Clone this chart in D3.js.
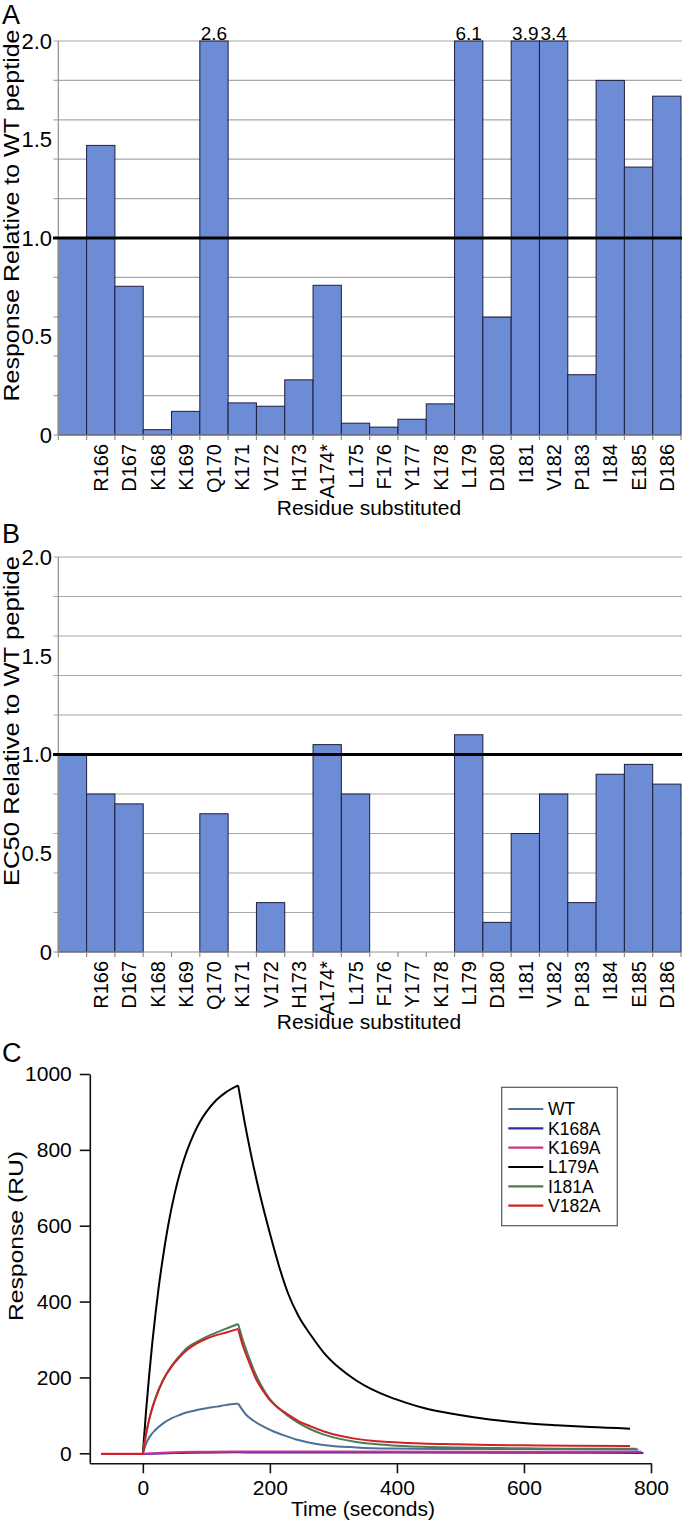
<!DOCTYPE html>
<html><head><meta charset="utf-8">
<script src="https://cdn.jsdelivr.net/npm/d3@7"></script>
<style>
body{margin:0;background:#fff}
svg{display:block}
text{font-family:"Liberation Sans",Arial,Helvetica,sans-serif;fill:#000}
</style>
</head><body>
<svg id="chart" width="682" height="1524"></svg>
<script>
// ---------- DATA ----------
const residues = ["WT","R166","D167","K168","K169","Q170","K171","V172","H173","A174*","L175","F176","Y177","K178","L179","D180","I181","V182","P183","I184","E185","D186"];
const residueTickLabels = ["","R166","D167","K168","K169","Q170","K171","V172","H173","A174*","L175","F176","Y177","K178","L179","D180","I181","V182","P183","I184","E185","D186"];
const responseValues = [1.0,1.47,0.755,0.027,0.12,2.6,0.163,0.146,0.28,0.76,0.06,0.04,0.08,0.158,6.1,0.598,3.9,3.4,0.306,1.8,1.36,1.72];
const ec50Values = [1.0,0.8,0.75,null,null,0.7,null,0.25,null,1.05,0.8,null,null,null,1.1,0.15,0.6,0.8,0.25,0.9,0.95,0.85];
const barYTickValues = [0,0.5,1,1.5,2];
const barYTickLabels = ["0","0.5","1.0","1.5","2.0"];
const barGridValues = [0.2,0.4,0.6,0.8,1.2,1.4,1.6,1.8,2.0];

const sprNames = ["WT","K168A","K169A","L179A","I181A","V182A"];
const sprColors = ["#4b7296","#2e2ea0","#d0308e","#000000","#4e7a58","#d02222"];
const wtTime   = [-65,0,5,11,20,32,45,58,70,85,100,116,130,150,163,175,190,205,221,240,263,284,336,389,494,600,780];
const wtResp   = [-2,-2,25,44,62,79,92,101,108,114,119,123,127,131,101,85,70,58,48,37,28,22,15.5,12.5,11,11,10];
const k168Time = [-65,0,50,150,200,400,600,788];
const k168Resp = [-2,-2,1,3,2,2,1.5,1];
const k169Time = [-65,0,50,100,150,200,300,500,785];
const k169Resp = [-1,-1,3,4,5,5,4.5,4,4];
const l179Time = [-65,0,5,10,15,20,25,30,40,50,60,70,80,90,100,115,130,150,160,170,184,200,215,229,245,263,285,310,336,360,389,415,441,494,546,599,651,704,767];
const l179Resp = [-2,-2,110,206,293,369,438,498,602,684,749,800,841,874,900,930,951,970,875,790,685,580,490,420,362,315,265,224,192,169,148,133,120,102,89,80,74,69,65];
const i181Time = [-65,0,5,11,20,32,45,58,70,85,100,111,130,150,158,165,179,190,200,213,226,245,263,284,310,336,360,389,440,494,546,599,680,777];
const i181Resp = [-2,-2,50,96,146,194,230,257,278,294,307,315,328,341,296,262,203,168,143,120,102,80,64,50,38,30,25,21,17,15,14,13,12,12];
const v182Time = [-65,0,5,11,20,32,45,58,70,85,100,111,130,150,158,165,179,190,200,213,226,245,263,284,310,336,360,389,440,494,546,599,680,767];
const v182Resp = [-2,-2,50,96,145,193,228,254,273,290,302,309,318,328,281,250,193,163,140,120,105,85,72,58,46,38,33,30,26,24,22,21,20,19];
const sprXTicks = [0,200,400,600,800];
const sprYTicks = [0,200,400,600,800,1000];

const sprSeries = [
  {t: wtTime, v: wtResp}, {t: k168Time, v: k168Resp}, {t: k169Time, v: k169Resp},
  {t: l179Time, v: l179Resp}, {t: i181Time, v: i181Resp}, {t: v182Time, v: v182Resp}
].map((s,i)=>({name: sprNames[i], color: sprColors[i], pts: s.t.map((t,j)=>({t, v: s.v[j]}))}));

// ---------- DRAW ----------
const svg = d3.select("#chart");
const font = "'Liberation Sans',Arial,Helvetica,sans-serif";

function barPanel(cfg){
  const g = svg.append("g");
  const x = d3.scaleBand().domain(residues).range([58.3, 681]).paddingInner(0).paddingOuter(0);
  const y = d3.scaleLinear().domain([0,2]).range([cfg.y0, cfg.yTop]).clamp(true);
  const bw = x.bandwidth();
  g.selectAll("line.grid").data(barGridValues).join("line")
    .attr("x1", 53.5).attr("x2", 682).attr("y1", d=>y(d)).attr("y2", d=>y(d))
    .attr("stroke", "#a8a8a8").attr("stroke-width", 1.2);
  const data = residues.map((r,i)=>({r, v: cfg.values[i]})).filter(d=>d.v!==null);
  g.selectAll("rect.bar").data(data).join("rect")
    .attr("x", d=>x(d.r)).attr("width", bw)
    .attr("y", d=>y(d.v)).attr("height", d=>cfg.y0 - y(d.v))
    .attr("fill", "#6c8dd5").attr("stroke", "#1d1d3e").attr("stroke-width", 1);
  g.append("line").attr("x1",58.3).attr("x2",58.3).attr("y1",cfg.yTop).attr("y2",cfg.y0)
    .attr("stroke","#909090").attr("stroke-width",1.2);
  g.append("line").attr("x1",53.5).attr("x2",682).attr("y1",cfg.y0).attr("y2",cfg.y0)
    .attr("stroke","#909090").attr("stroke-width",1.2);
  const bounds = residues.map(r=>x(r)).concat([x.range()[1]]);
  g.selectAll("line.xt").data(bounds).join("line")
    .attr("x1",d=>d).attr("x2",d=>d).attr("y1",cfg.y0).attr("y2",cfg.y0+5)
    .attr("stroke","#909090").attr("stroke-width",1.2);
  g.append("line").attr("x1",53).attr("x2",682).attr("y1",y(1)).attr("y2",y(1))
    .attr("stroke","#000").attr("stroke-width",3);
  g.selectAll("text.yt").data(barYTickValues).join("text")
    .attr("x",52).attr("y",d=>y(d)).attr("dy","0.36em").attr("text-anchor","end")
    .style("font-size","22px").text((d,i)=>barYTickLabels[i]);
  g.selectAll("text.xl").data(residues).join("text")
    .attr("transform", d=>`translate(${x(d)+bw/2},${cfg.y0+9}) rotate(-90)`)
    .attr("dy","0.36em").attr("text-anchor","end").style("font-size","20px")
    .text((d,i)=>residueTickLabels[i]);
  g.selectAll("text.vl").data(data.filter(d=>d.v>2)).join("text")
    .attr("x", d=>x(d.r)+bw/2).attr("y", cfg.yTop-1.5).attr("text-anchor","middle")
    .style("font-size","19px").text(d=>d3.format(".1f")(d.v));
  g.append("text").attr("x",369).attr("y",cfg.xTitleY).attr("text-anchor","middle")
    .style("font-size","21px").text("Residue substituted");
  g.append("text").attr("transform",`translate(18.5,${cfg.titleCenter}) rotate(-90)`)
    .attr("text-anchor","middle").style("font-size","22px")
    .attr("textLength",cfg.titleLen).attr("lengthAdjust","spacingAndGlyphs")
    .text(cfg.yTitle);
  g.append("text").attr("x",2).attr("y",cfg.letterY).style("font-size","27px").text(cfg.letter);
}

barPanel({yTop:41, y0:435, values:responseValues, yTitle:"Response Relative to WT peptide",
  titleCenter:215.5, titleLen:372, letter:"A", letterY:24, xTitleY:515});
barPanel({yTop:557, y0:952, values:ec50Values, yTitle:"EC50 Relative to WT peptide",
  titleCenter:721, titleLen:330, letter:"B", letterY:543, xTitleY:1029});

// ---------- Panel C ----------
const gc = svg.append("g");
const xs = d3.scaleLinear().domain([-83.5, 800]).range([89.8, 651]);
const ys = d3.scaleLinear().domain([-26.4, 1000]).range([1463.3, 1074]);

const xAxis = d3.axisBottom(xs).tickValues(sprXTicks).tickSize(10).tickSizeOuter(0).tickPadding(7).tickFormat(d3.format("d"));
const yAxis = d3.axisLeft(ys).tickValues(sprYTicks).tickSize(10).tickSizeOuter(0).tickPadding(8).tickFormat(d3.format("d"));
const gx = gc.append("g").attr("transform","translate(0,1463.3)").call(xAxis);
const gy = gc.append("g").attr("transform","translate(89.8,0)").call(yAxis);
[gx, gy].forEach(a=>{
  a.selectAll("path,line").attr("stroke","#111").attr("stroke-width",1.6);
  a.selectAll("text").style("font-size","21px").style("font-family",font).attr("fill","#000");
});

const line = d3.line().x(d=>xs(d.t)).y(d=>ys(d.v)).curve(d3.curveMonotoneX);
const phaseBreaks = [0, 150];
sprSeries.forEach(s=>{
  const segs = [
    s.pts.filter(p=>p.t<=phaseBreaks[0]),
    s.pts.filter(p=>p.t>=phaseBreaks[0] && p.t<=phaseBreaks[1]),
    s.pts.filter(p=>p.t>=phaseBreaks[1])
  ];
  const gs = gc.append("g");
  segs.forEach(seg=>{
    if(seg.length>1) gs.append("path").attr("d", line(seg)).attr("fill","none")
      .attr("stroke", s.color).attr("stroke-width", 2).attr("stroke-linejoin","round");
  });
});

gc.append("text").attr("x",363).attr("y",1516).attr("text-anchor","middle")
  .style("font-size","21px").text("Time (seconds)");
gc.append("text").attr("transform","translate(23.3,1236) rotate(-90)").attr("text-anchor","middle")
  .style("font-size","21px").attr("textLength",170).attr("lengthAdjust","spacingAndGlyphs")
  .text("Response (RU)");
gc.append("text").attr("x",2).attr("y",1062).style("font-size","27px").text("C");

// legend
const lg = gc.append("g");
lg.append("rect").attr("x",501.7).attr("y",1087.3).attr("width",115.6).attr("height",138.4)
  .attr("fill","#fff").attr("stroke","#555").attr("stroke-width",1.2);
const ly = d3.scalePoint().domain(sprNames).range([1109, 1205.7]);
lg.selectAll("line.lg").data(sprSeries).join("line")
  .attr("x1",508.3).attr("x2",543.3).attr("y1",d=>ly(d.name)).attr("y2",d=>ly(d.name))
  .attr("stroke",d=>d.color).attr("stroke-width",2.2);
lg.selectAll("text.lg").data(sprSeries).join("text")
  .attr("x",548).attr("y",d=>ly(d.name)).attr("dy","0.36em").style("font-size","17.5px")
  .text(d=>d.name);
</script>
</body></html>
